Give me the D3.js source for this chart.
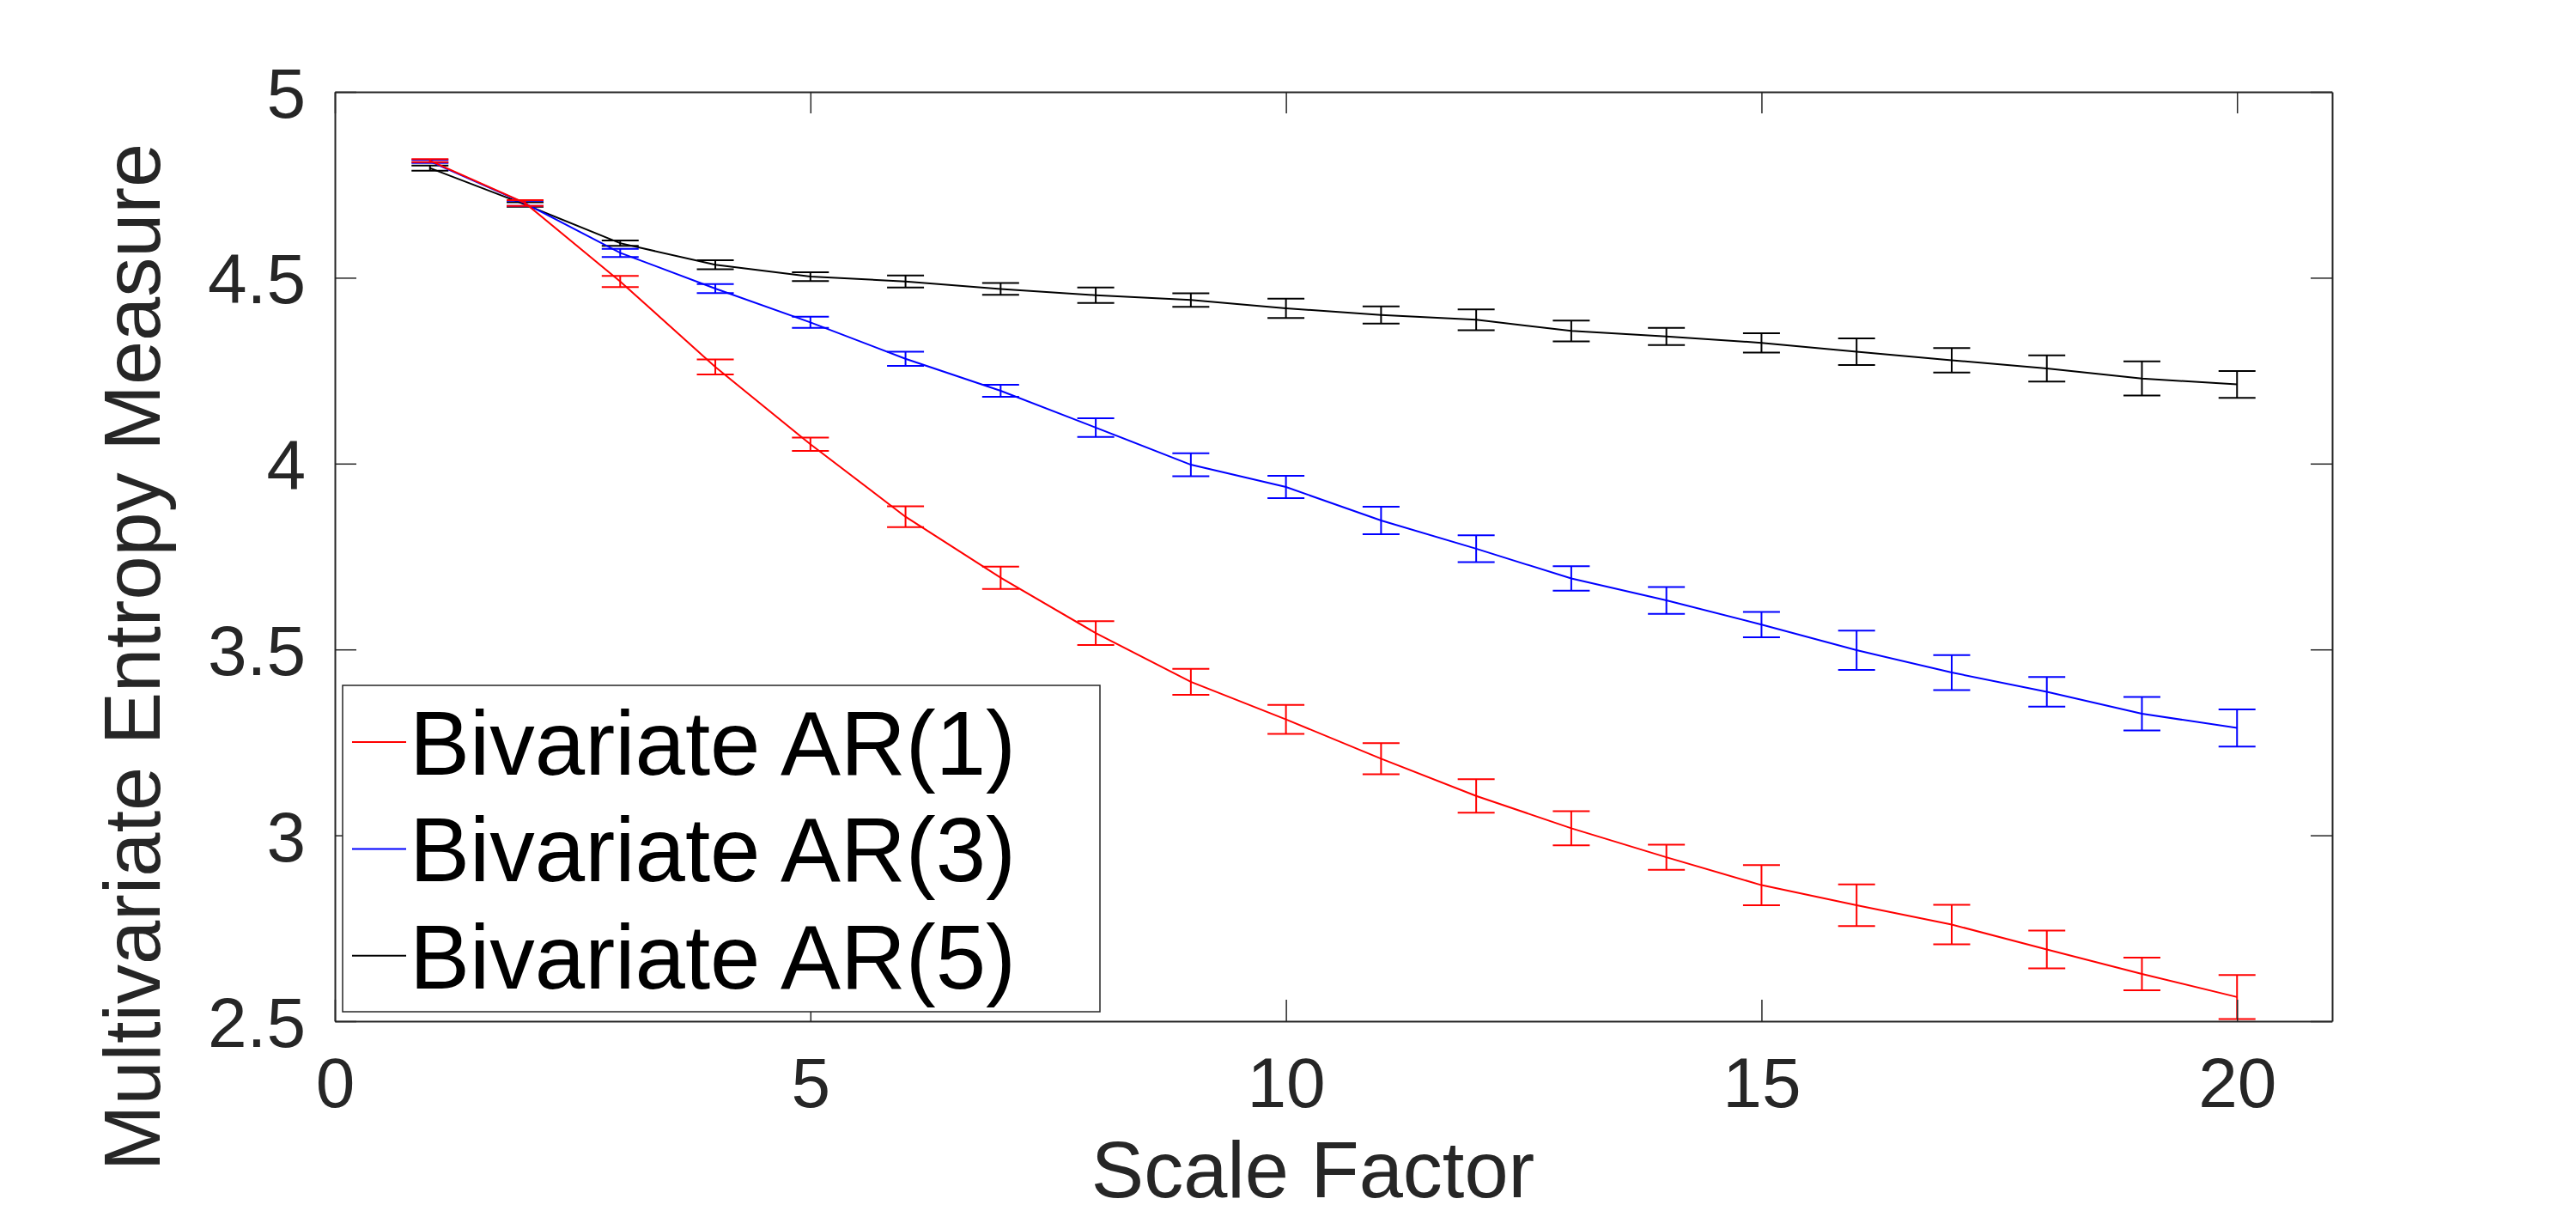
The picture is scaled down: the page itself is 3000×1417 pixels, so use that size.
<!DOCTYPE html>
<html>
<head>
<meta charset="utf-8">
<script src="https://cdn.jsdelivr.net/npm/d3@7"></script>
<style>
  html, body { margin: 0; padding: 0; background: #ffffff; }
  svg { display: block; }
  text { font-family: "Liberation Sans", Arial, Helvetica, sans-serif; }
</style>
</head>
<body>
<svg id="chart" width="3000" height="1417"></svg>
<script>
// ---------------- data ----------------
const scaleFactors = [1,2,3,4,5,6,7,8,9,10,11,12,13,14,15,16,17,18,19,20];

const seriesNames = ["Bivariate AR(1)", "Bivariate AR(3)", "Bivariate AR(5)"];
const seriesColors = ["#ff0000", "#0000ff", "#000000"];

const ar1Mean = [4.815, 4.701, 4.490, 4.260, 4.052, 3.857, 3.693, 3.544, 3.413, 3.312,
                 3.206, 3.106, 3.019, 2.941, 2.866, 2.812, 2.760, 2.693, 2.627, 2.565];
const ar1Err  = [0.004, 0.008, 0.015, 0.020, 0.018, 0.028, 0.030, 0.032, 0.035, 0.039,
                 0.042, 0.045, 0.046, 0.034, 0.054, 0.056, 0.053, 0.051, 0.044, 0.059];

const ar3Mean = [4.813, 4.700, 4.567, 4.471, 4.380, 4.282, 4.196, 4.097, 3.997, 3.937,
                 3.847, 3.771, 3.691, 3.632, 3.567, 3.498, 3.438, 3.386, 3.327, 3.289];
const ar3Err  = [0.004, 0.007, 0.011, 0.012, 0.015, 0.019, 0.016, 0.025, 0.031, 0.030,
                 0.037, 0.036, 0.033, 0.036, 0.034, 0.053, 0.047, 0.040, 0.045, 0.050];

const ar5Mean = [4.795, 4.697, 4.593, 4.535, 4.503, 4.490, 4.470, 4.453, 4.440, 4.418,
                 4.400, 4.387, 4.357, 4.342, 4.325, 4.301, 4.278, 4.256, 4.229, 4.213];
const ar5Err  = [0.007, 0.006, 0.007, 0.012, 0.012, 0.016, 0.016, 0.021, 0.018, 0.026,
                 0.023, 0.028, 0.028, 0.023, 0.026, 0.036, 0.033, 0.035, 0.046, 0.036];

const xTicks = [0, 5, 10, 15, 20];
const yTicks = [2.5, 3, 3.5, 4, 4.5, 5];
const xLabel = "Scale Factor";
const yLabel = "Multivariate Entropy Measure";

// ---------------- layout ----------------
const plot = { left: 390, right: 2716, top: 107, bottom: 1189 };
const axisColor = "#262626";

const svg = d3.select("#chart");
svg.append("rect").attr("width", 3000).attr("height", 1417).attr("fill", "#ffffff");

const x = d3.scaleLinear().domain([0, 21]).range([plot.left, plot.right]);
const y = d3.scaleLinear().domain([2.5, 5]).range([plot.bottom, plot.top]);

const series = [
  { name: seriesNames[0], color: seriesColors[0], mean: ar1Mean, err: ar1Err },
  { name: seriesNames[1], color: seriesColors[1], mean: ar3Mean, err: ar3Err },
  { name: seriesNames[2], color: seriesColors[2], mean: ar5Mean, err: ar5Err }
];

// ---------------- data marks ----------------
const line = d3.line().x(d => x(d.x)).y(d => y(d.m));
const capHalf = 21.5;
const drawOrder = [2, 1, 0];

drawOrder.forEach(i => {
  const s = series[i];
  const pts = scaleFactors.map((sf, k) => ({ x: sf, m: s.mean[k], e: s.err[k] }));
  const g = svg.append("g").attr("stroke", s.color).attr("fill", "none").attr("stroke-width", 2);
  g.append("path").attr("d", line(pts));
  const eb = g.selectAll("g.eb").data(pts).enter().append("g").attr("class", "eb");
  eb.append("line")
    .attr("x1", d => x(d.x)).attr("x2", d => x(d.x))
    .attr("y1", d => y(d.m - d.e)).attr("y2", d => y(d.m + d.e));
  eb.append("line")
    .attr("x1", d => x(d.x) - capHalf).attr("x2", d => x(d.x) + capHalf)
    .attr("y1", d => y(d.m + d.e)).attr("y2", d => y(d.m + d.e));
  eb.append("line")
    .attr("x1", d => x(d.x) - capHalf).attr("x2", d => x(d.x) + capHalf)
    .attr("y1", d => y(d.m - d.e)).attr("y2", d => y(d.m - d.e));
});

// ---------------- axes ----------------
function styleAxis(g) {
  g.select(".domain").attr("stroke", axisColor).attr("stroke-width", 2);
  g.selectAll(".tick line").attr("stroke", axisColor).attr("stroke-width", 1.5);
  g.selectAll(".tick text").attr("fill", axisColor)
    .style("font-family", '"Liberation Sans", Arial, sans-serif')
    .style("font-size", "82px");
}

const gx = svg.append("g").attr("transform", `translate(0,${plot.bottom})`)
  .call(d3.axisBottom(x).tickValues(xTicks).tickSizeInner(-25).tickSizeOuter(0).tickPadding(42));
styleAxis(gx);

const gxTop = svg.append("g").attr("transform", `translate(0,${plot.top})`)
  .call(d3.axisTop(x).tickValues(xTicks).tickSizeInner(-25).tickSizeOuter(0).tickFormat(""));
styleAxis(gxTop);

const gy = svg.append("g").attr("transform", `translate(${plot.left},0)`)
  .call(d3.axisLeft(y).tickValues(yTicks).tickSizeInner(-25).tickSizeOuter(0).tickPadding(34)
        .tickFormat(d3.format("~g")));
styleAxis(gy);
gy.selectAll(".tick text").attr("dy", "0.36em");

const gyRight = svg.append("g").attr("transform", `translate(${plot.right},0)`)
  .call(d3.axisRight(y).tickValues(yTicks).tickSizeInner(-25).tickSizeOuter(0).tickFormat(""));
styleAxis(gyRight);

// axis labels
svg.append("text")
  .attr("x", 1529).attr("y", 1394)
  .attr("text-anchor", "middle")
  .attr("fill", axisColor)
  .style("font-size", "92px")
  .text(xLabel);

svg.append("text")
  .attr("transform", "translate(186,765) rotate(-90)")
  .attr("text-anchor", "middle")
  .attr("fill", axisColor)
  .style("font-size", "92px")
  .text(yLabel);

// ---------------- legend ----------------
const legend = svg.append("g");
legend.append("rect")
  .attr("x", 399).attr("y", 798).attr("width", 882).attr("height", 380)
  .attr("fill", "#ffffff").attr("stroke", axisColor).attr("stroke-width", 1.5);

series.forEach((s, i) => {
  const cy = 864 + i * 124.4;
  legend.append("line")
    .attr("x1", 410).attr("x2", 473).attr("y1", cy).attr("y2", cy)
    .attr("stroke", s.color).attr("stroke-width", 2);
  legend.append("text")
    .attr("x", 477).attr("y", cy + 38)
    .attr("fill", "#000000")
    .style("font-size", "105px")
    .text(s.name);
});
</script>
</body>
</html>
